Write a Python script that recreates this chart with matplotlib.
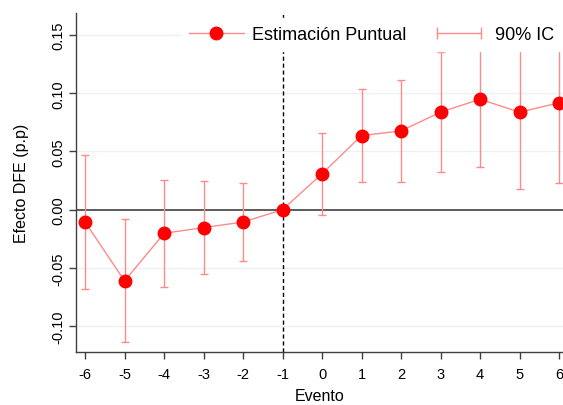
import matplotlib.pyplot as plt
from matplotlib.lines import Line2D
from matplotlib.legend_handler import HandlerLine2D

plt.rcParams['font.family'] = ['Liberation Sans', 'DejaVu Sans']

# event study estimates (percentage points)
evento = [-6, -5, -4, -3, -2, -1, 0, 1, 2, 3, 4, 5, 6]
coef = [-0.0106, -0.0612, -0.0203, -0.0154, -0.0106, 0.0,
        0.0309, 0.0637, 0.0677, 0.0838, 0.0949, 0.0838, 0.0918]
ci_low = [-0.0678, -0.1138, -0.0663, -0.0552, -0.0443, 0.0,
          -0.0043, 0.0234, 0.0240, 0.0326, 0.0369, 0.0180, 0.0229]
ci_high = [0.0470, -0.0083, 0.0251, 0.0246, 0.0232, 0.0,
           0.0658, 0.1038, 0.1118, 0.1352, 0.1529, 0.1496, 0.1607]
yticks = [-0.10, -0.05, 0.00, 0.05, 0.10, 0.15]

red = '#ff0000'
pink = '#ff8a8a'

fig = plt.figure(figsize=(5.63, 4.06), dpi=100)
ax = fig.add_axes([0.135, 0.1305, 0.865, 0.835])

for y in yticks:
    if y != 0:
        ax.axhline(y, color='#eaf2f4', lw=1.0, zorder=0)

ax.axhline(0, color='#404040', lw=1.2, zorder=1)
ax.axvline(-1, color='black', lw=1.0, ls=(0, (3, 2)), zorder=1)

# confidence intervals (skip the reference period)
keep = [i for i in range(len(evento)) if ci_high[i] != ci_low[i]]
xe = [evento[i] for i in keep]
ce = [coef[i] for i in keep]
lo = [coef[i] - ci_low[i] for i in keep]
hi = [ci_high[i] - coef[i] for i in keep]
ax.errorbar(xe, ce, yerr=[lo, hi], fmt='none', ecolor=pink, elinewidth=1.0,
            capsize=3, capthick=1.0, zorder=2)

ax.plot(evento, coef, color=pink, lw=1.0, zorder=3)
ax.plot(evento, coef, 'o', color=red, ms=9, zorder=4)

ax.set_xlim(-6.23, 6.1)
ax.set_ylim(-0.1223, 0.169)
ax.set_xticks(evento)
ax.set_xticklabels([str(e) for e in evento])
ax.set_yticks(yticks)
ax.set_yticklabels(['%.2f' % y for y in yticks], rotation=90, va='center')
ax.tick_params(labelsize=10.5, length=5, width=1, color='#404040')
ax.tick_params(axis='x', pad=5.5)
ax.tick_params(axis='y', pad=3)

for s in ['top', 'right']:
    ax.spines[s].set_visible(False)
for s in ['left', 'bottom']:
    ax.spines[s].set_color('#404040')
    ax.spines[s].set_linewidth(1.0)

ax.set_xlabel('Evento', fontsize=11.5, labelpad=5)
ax.set_ylabel('Efecto DFE (p.p)', fontsize=11.5, labelpad=16)

h_pt = Line2D([0, 1], [0, 0], color=pink, lw=1.0, marker='o',
              markerfacecolor=red, markeredgecolor=red, ms=9)
h_ci = Line2D([0, 1], [0, 0], color=pink, lw=1.0, marker='|',
              markeredgecolor=pink, ms=8, mew=1.0)
leg = ax.legend([h_pt, h_ci], ['Estimación Puntual', '90% IC'],
                handler_map={h_pt: HandlerLine2D(numpoints=1),
                             h_ci: HandlerLine2D(numpoints=2)},
                ncol=2, loc='upper right', bbox_to_anchor=(1.0, 0.988),
                fontsize=13, frameon=True, fancybox=False, framealpha=1,
                edgecolor='white', handlelength=3.05, handletextpad=0.45,
                columnspacing=1.4, borderaxespad=0.05, borderpad=0.45)
leg.set_zorder(10)

fig.savefig('out.png', dpi=100)
